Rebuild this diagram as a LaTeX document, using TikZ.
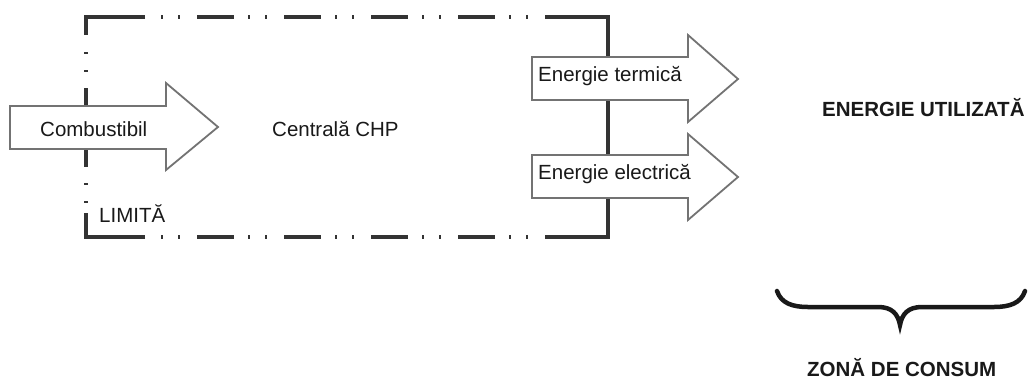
\documentclass[tikz,border=0pt]{standalone}
\usepackage{fontspec}
\setmainfont{Liberation Sans}
\begin{document}
\begin{tikzpicture}[x=1pt,y=-1pt,
  bnd/.style={line width=3.2pt, draw=black!80},
  flow/.style={draw=black!55, line width=1.8pt, fill=white, line join=miter},
  lbl/.style={anchor=base west, inner sep=0pt, font=\fontsize{20.5}{24}\selectfont, text=black!90},
  big/.style={lbl, font=\fontsize{20.5}{24}\selectfont\bfseries},
  bdash/.style={bnd, dash pattern=on 2pt off 15pt on 2pt off 17pt on 37pt off 14pt}]
\useasboundingbox (0,0) rectangle (1029,381);
% boundary
\coordinate (TL) at (86,17);
\coordinate (TR) at (608,17);
\coordinate (BL) at (86,237);
\coordinate (BR) at (608,237);
\draw[bnd] (145,17) -- (TL) -- (86,35);
\draw[bdash] (161,17) -- (546,17);
\draw[bnd] (546,17) -- (TR) -- (BR) -- (549,237);
\draw[bdash] (161,237) -- (549,237);
\draw[bnd] (145,237) -- (BL) -- (86,213);
\draw[bnd] (86,52) -- (86,54);
\draw[bnd] (86,70) -- (86,72);
\draw[bnd] (86,88) -- (86,167);
\draw[bnd] (86,183) -- (86,185);
\draw[bnd] (86,201) -- (86,203);
% arrows
\draw[flow] (10,106) -- (166,106) -- (166,83) -- (218,127) -- (166,170) -- (166,149) -- (10,149) -- cycle;
\draw[flow] (532,57) -- (688,57) -- (688,35) -- (738,79) -- (688,122) -- (688,100) -- (532,100) -- cycle;
\draw[flow] (532,155) -- (688,155) -- (688,134) -- (738,177) -- (688,220) -- (688,198) -- (532,198) -- cycle;
% labels
\node[lbl] (comb) at (40,136) {Combustibil};
\node[lbl] (chp) at (272,136) {Centrală CHP};
\node[lbl] (term) at (538,81) {Energie termică};
\node[lbl] (elec) at (538,179) {Energie electrică};
\node[lbl] (lim) at (99,222) {LIMITĂ};
\node[big] (util) at (822,116) {ENERGIE UTILIZATĂ};
\node[big] (zona) at (807,376) {ZONĂ DE CONSUM};
% brace
\draw[line width=4.5pt, line cap=round, black!90]
  (777,291) .. controls (781,303) and (792,307) .. (808,307) -- (878,307)
  .. controls (892,307) and (898,314) .. (900,325)
  .. controls (902,314) and (908,307) .. (922,307) -- (994,307)
  .. controls (1010,307) and (1021,303) .. (1025,291);
\end{tikzpicture}
\end{document}
